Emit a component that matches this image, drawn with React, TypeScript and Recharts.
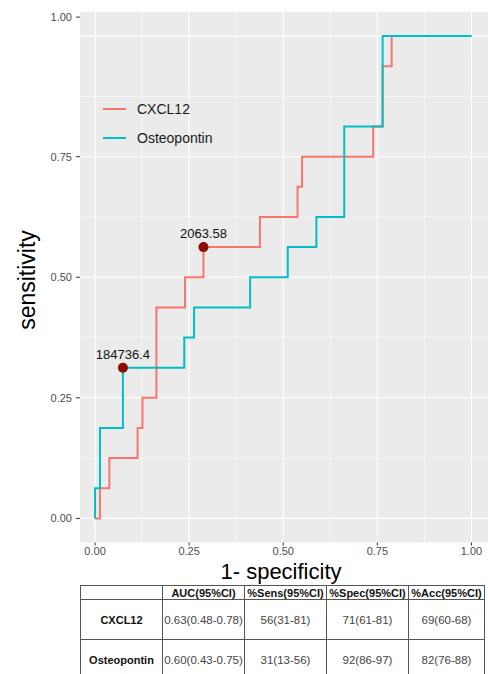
import { ComposedChart, Line, Scatter, XAxis, YAxis, CartesianGrid } from 'recharts'

// ROC vertices (1 - specificity, sensitivity), drawn as step curves
const CXCL12_FPR = [0, 0.013, 0.038, 0.113, 0.126, 0.163, 0.239, 0.288, 0.438, 0.538, 0.55, 0.739, 0.764, 0.788, 1]
const CXCL12_TPR = [0, 0.0625, 0.125, 0.1875, 0.25, 0.4375, 0.5, 0.5625, 0.625, 0.6875, 0.75, 0.8125, 0.9375, 1, 1]
const OPN_FPR = [0, 0, 0.013, 0.074, 0.237, 0.263, 0.412, 0.512, 0.588, 0.662, 0.764, 1]
const OPN_TPR = [0, 0.0625, 0.1875, 0.3125, 0.375, 0.4375, 0.5, 0.5625, 0.625, 0.8125, 1, 1]

// best cut-off points
const CUT_FPR = [0.074, 0.288]
const CUT_TPR = [0.3125, 0.5625]
const CUT_LABELS = ['184736.4', '2063.58']

const MAJOR = [0, 0.25, 0.5, 0.75, 1]
const MINOR = [0.125, 0.375, 0.625, 0.875]

const TABLE_HEAD = ['', 'AUC(95%CI)', '%Sens(95%CI)', '%Spec(95%CI)', '%Acc(95%CI)']
const TABLE_ROWS = [
  ['CXCL12', '0.63(0.48-0.78)', '56(31-81)', '71(61-81)', '69(60-68)'],
  ['Osteopontin', '0.60(0.43-0.75)', '31(13-56)', '92(86-97)', '82(76-88)'],
]
const COL_W = [82, 82, 82, 82, 76]

const SERIES = [
  { name: 'CXCL12', color: '#F8766D', data: CXCL12_FPR.map((x, i) => ({ x, y: CXCL12_TPR[i] })) },
  { name: 'Osteopontin', color: '#00BFC4', data: OPN_FPR.map((x, i) => ({ x, y: OPN_TPR[i] })) },
]
const cutoffs = CUT_FPR.map((x, i) => ({ x, y: CUT_TPR[i], label: CUT_LABELS[i] }))

const FONT = '"Liberation Sans", Arial, sans-serif'

const fmt = (v: number) => v.toFixed(2)

function YTick({ x, y, payload }: any) {
  // the top label sits a bit above its gridline in the original
  const dy = payload.value === 1 ? -19 : 0
  return (
    <g transform={`translate(${x},${y + dy})`}>
      <line x1={4} x2={8} y1={0} y2={0} stroke="#333" strokeWidth={1} />
      <text x={0} y={0} dy={4} textAnchor="end" fontSize={11} fill="#4D4D4D" fontFamily={FONT}>
        {fmt(payload.value)}
      </text>
    </g>
  )
}

function CutPoint({ cx, cy, payload }: any) {
  return (
    <g>
      <circle cx={cx} cy={cy} r={5} fill="#8B0E00" />
      <text x={cx} y={cy - 9} textAnchor="middle" fontSize={13} fill="#111" fontFamily={FONT}>
        {payload.label}
      </text>
    </g>
  )
}

function LegendBox() {
  return (
    <div style={{ position: 'absolute', left: 103, top: 94.5, fontFamily: FONT, fontSize: 14, color: '#1a1a1a' }}>
      {SERIES.map((s) => (
        <div key={s.name} style={{ display: 'flex', alignItems: 'center', height: 29 }}>
          <svg width={23} height={4}>
            <line x1={0} x2={23} y1={2} y2={2} stroke={s.color} strokeWidth={2} />
          </svg>
          <span style={{ marginLeft: 11 }}>{s.name}</span>
        </div>
      ))}
    </div>
  )
}

export default function App() {
  return (
    <div
      style={{
        position: 'absolute',
        left: 0,
        top: 0,
        width: 488,
        height: 674,
        overflow: 'hidden',
        background: '#fff',
        fontFamily: FONT,
      }}
    >
      <ComposedChart width={488} height={580} margin={{ top: 12, right: 0, bottom: 0, left: 0 }}>
        <CartesianGrid
          fill="#EBEBEB"
          stroke="#fff"
          strokeWidth={0.5}
          horizontalValues={MINOR}
          verticalValues={MINOR}
        />
        <CartesianGrid stroke="#fff" strokeWidth={1.1} horizontalValues={MAJOR} verticalValues={MAJOR} />
        <XAxis
          type="number"
          dataKey="x"
          domain={[-0.04, 1.044]}
          ticks={MAJOR}
          tickFormatter={fmt}
          allowDataOverflow
          height={37.5}
          axisLine={false}
          tickSize={3}
          tickMargin={2}
          tickLine={{ stroke: '#333' }}
          tick={{ fontSize: 11, fill: '#4D4D4D', fontFamily: FONT }}
        />
        <YAxis
          type="number"
          dataKey="y"
          domain={[-0.05, 1.05]}
          ticks={MAJOR}
          allowDataOverflow
          width={80}
          axisLine={false}
          tickLine={false}
          tickSize={4}
          tickMargin={4}
          tick={<YTick />}
        />
        {SERIES.map((s) => (
          <Line
            key={s.name}
            data={s.data}
            dataKey="y"
            name={s.name}
            type="stepAfter"
            stroke={s.color}
            strokeWidth={2}
            dot={false}
            activeDot={false}
            isAnimationActive={false}
          />
        ))}
        <Scatter data={cutoffs} dataKey="y" shape={<CutPoint />} isAnimationActive={false} legendType="none" />
      </ComposedChart>

      <LegendBox />

      <svg style={{ position: 'absolute', left: 0, top: 0 }} width={488} height={585}>
        <text x={27} y={280} transform="rotate(-90 27 280)" textAnchor="middle" dominantBaseline="central" fontSize={23} fill="#000" fontFamily={FONT}>
          sensitivity
        </text>
        <text x={281} y={579} textAnchor="middle" fontSize={22} fill="#000" fontFamily={FONT}>
          1- specificity
        </text>
      </svg>

      <table
        style={{
          position: 'absolute',
          left: 80,
          top: 585,
          borderCollapse: 'collapse',
          tableLayout: 'fixed',
          fontFamily: FONT,
        }}
      >
        <colgroup>
          {COL_W.map((w, i) => (
            <col key={i} style={{ width: w }} />
          ))}
        </colgroup>
        <thead>
          <tr style={{ height: 14 }}>
            {TABLE_HEAD.map((h, i) => (
              <th
                key={i}
                style={{ border: '1px solid #555', fontSize: 11, fontWeight: 'bold', color: '#111', padding: 0, lineHeight: '12px' }}
              >
                {h}
              </th>
            ))}
          </tr>
        </thead>
        <tbody>
          {TABLE_ROWS.map((row, r) => (
            <tr key={r} style={{ height: 40 }}>
              {row.map((c, i) => (
                <td
                  key={i}
                  style={{
                    border: '1px solid #555',
                    textAlign: 'center',
                    padding: 0,
                    fontSize: i === 0 ? 11 : 11.5,
                    fontWeight: i === 0 ? 'bold' : 'normal',
                    color: i === 0 ? '#111' : '#444',
                  }}
                >
                  {c}
                </td>
              ))}
            </tr>
          ))}
        </tbody>
      </table>
    </div>
  )
}
